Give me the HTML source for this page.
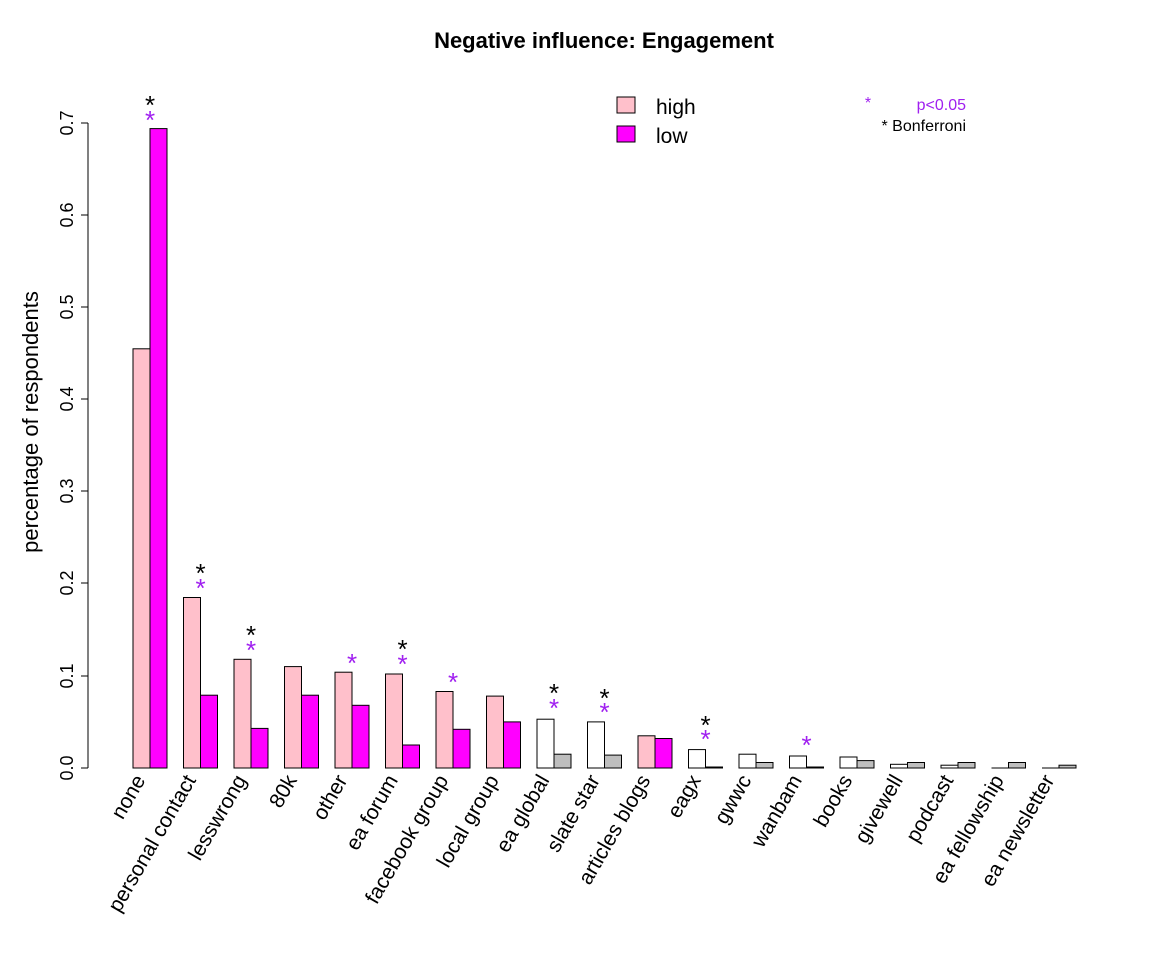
<!DOCTYPE html>
<html><head><style>body{margin:0;background:#fff}svg{display:block}text{font-family:"Liberation Sans",Arial,sans-serif}</style></head>
<body>
<svg width="1152" height="960" viewBox="0 0 1152 960" xmlns="http://www.w3.org/2000/svg">
<text x="604" y="48" font-size="22" font-weight="bold" text-anchor="middle">Negative influence: Engagement</text>
<text transform="translate(38,422) rotate(-90)" font-size="22" text-anchor="middle">percentage of respondents</text>
<g stroke="#000" stroke-width="1">
<line x1="88" y1="123" x2="88" y2="768"/>
<line x1="81" y1="768" x2="88" y2="768"/><line x1="81" y1="676" x2="88" y2="676"/><line x1="81" y1="583" x2="88" y2="583"/><line x1="81" y1="491" x2="88" y2="491"/><line x1="81" y1="399" x2="88" y2="399"/><line x1="81" y1="307" x2="88" y2="307"/><line x1="81" y1="215" x2="88" y2="215"/><line x1="81" y1="123" x2="88" y2="123"/>
</g>
<g font-size="18" text-anchor="middle">
<text transform="translate(73,768) rotate(-90)">0.0</text>
<text transform="translate(73,676) rotate(-90)">0.1</text>
<text transform="translate(73,583) rotate(-90)">0.2</text>
<text transform="translate(73,491) rotate(-90)">0.3</text>
<text transform="translate(73,399) rotate(-90)">0.4</text>
<text transform="translate(73,307) rotate(-90)">0.5</text>
<text transform="translate(73,215) rotate(-90)">0.6</text>
<text transform="translate(73,123) rotate(-90)">0.7</text>
</g>
<g stroke="#000" stroke-width="1">
<rect x="133" y="348.8" width="17" height="419.2" fill="#FFC0CB"/><rect x="150" y="128.6" width="17" height="639.4" fill="#FF00FF"/>
<rect x="183.5" y="597.5" width="17" height="170.5" fill="#FFC0CB"/><rect x="200.5" y="695.2" width="17" height="72.8" fill="#FF00FF"/>
<rect x="234" y="659.3" width="17" height="108.7" fill="#FFC0CB"/><rect x="251" y="728.4" width="17" height="39.6" fill="#FF00FF"/>
<rect x="284.5" y="666.6" width="17" height="101.4" fill="#FFC0CB"/><rect x="301.5" y="695.2" width="17" height="72.8" fill="#FF00FF"/>
<rect x="335" y="672.2" width="17" height="95.8" fill="#FFC0CB"/><rect x="352" y="705.3" width="17" height="62.7" fill="#FF00FF"/>
<rect x="385.5" y="674" width="17" height="94" fill="#FFC0CB"/><rect x="402.5" y="745" width="17" height="23" fill="#FF00FF"/>
<rect x="436" y="691.5" width="17" height="76.5" fill="#FFC0CB"/><rect x="453" y="729.3" width="17" height="38.7" fill="#FF00FF"/>
<rect x="486.5" y="696.1" width="17" height="71.9" fill="#FFC0CB"/><rect x="503.5" y="721.9" width="17" height="46.1" fill="#FF00FF"/>
<rect x="537" y="719.2" width="17" height="48.8" fill="#fff"/><rect x="554" y="754.2" width="17" height="13.8" fill="#BEBEBE"/>
<rect x="587.5" y="721.9" width="17" height="46.1" fill="#fff"/><rect x="604.5" y="755.1" width="17" height="12.9" fill="#BEBEBE"/>
<rect x="638" y="735.8" width="17" height="32.2" fill="#FFC0CB"/><rect x="655" y="738.5" width="17" height="29.5" fill="#FF00FF"/>
<rect x="688.5" y="749.6" width="17" height="18.4" fill="#fff"/><rect x="705.5" y="767" width="17" height="1" fill="#BEBEBE"/>
<rect x="739" y="754.2" width="17" height="13.8" fill="#fff"/><rect x="756" y="762.5" width="17" height="5.5" fill="#BEBEBE"/>
<rect x="789.5" y="756" width="17" height="12" fill="#fff"/><rect x="806.5" y="767" width="17" height="1" fill="#BEBEBE"/>
<rect x="840" y="757" width="17" height="11" fill="#fff"/><rect x="857" y="760.6" width="17" height="7.4" fill="#BEBEBE"/>
<rect x="890.5" y="764.3" width="17" height="3.7" fill="#fff"/><rect x="907.5" y="762.5" width="17" height="5.5" fill="#BEBEBE"/>
<rect x="941" y="765.2" width="17" height="2.8" fill="#fff"/><rect x="958" y="762.5" width="17" height="5.5" fill="#BEBEBE"/>
<line x1="991.5" y1="768" x2="1008.5" y2="768"/><rect x="1008.5" y="762.5" width="17" height="5.5" fill="#BEBEBE"/>
<line x1="1042" y1="768" x2="1059" y2="768"/><rect x="1059" y="765.2" width="17" height="2.8" fill="#BEBEBE"/>
</g>
<g font-size="26" text-anchor="middle">
<text x="150" y="129" fill="#A020F0">*</text><text x="150" y="114">*</text>
<text x="200.5" y="597" fill="#A020F0">*</text><text x="200.5" y="582">*</text>
<text x="251" y="659" fill="#A020F0">*</text><text x="251" y="644">*</text>
<text x="352" y="672" fill="#A020F0">*</text>
<text x="402.5" y="673" fill="#A020F0">*</text><text x="402.5" y="658">*</text>
<text x="453" y="691" fill="#A020F0">*</text>
<text x="554" y="717" fill="#A020F0">*</text><text x="554" y="702">*</text>
<text x="604.5" y="721" fill="#A020F0">*</text><text x="604.5" y="707">*</text>
<text x="705.5" y="748" fill="#A020F0">*</text><text x="705.5" y="734">*</text>
<text x="806.5" y="754" fill="#A020F0">*</text>
</g>
<g font-size="21" text-anchor="end">
<text transform="translate(146,780) rotate(-60)">none</text>
<text transform="translate(196.5,780) rotate(-60)">personal contact</text>
<text transform="translate(247,780) rotate(-60)">lesswrong</text>
<text transform="translate(297.5,780) rotate(-60)">80k</text>
<text transform="translate(348,780) rotate(-60)">other</text>
<text transform="translate(398.5,780) rotate(-60)">ea forum</text>
<text transform="translate(449,780) rotate(-60)">facebook group</text>
<text transform="translate(499.5,780) rotate(-60)">local group</text>
<text transform="translate(550,780) rotate(-60)">ea global</text>
<text transform="translate(600.5,780) rotate(-60)">slate star</text>
<text transform="translate(651,780) rotate(-60)">articles blogs</text>
<text transform="translate(701.5,780) rotate(-60)">eagx</text>
<text transform="translate(752,780) rotate(-60)">gwwc</text>
<text transform="translate(802.5,780) rotate(-60)">wanbam</text>
<text transform="translate(853,780) rotate(-60)">books</text>
<text transform="translate(903.5,780) rotate(-60)">givewell</text>
<text transform="translate(954,780) rotate(-60)">podcast</text>
<text transform="translate(1004.5,780) rotate(-60)">ea fellowship</text>
<text transform="translate(1055,780) rotate(-60)">ea newsletter</text>
</g>
<rect x="617" y="97" width="18" height="16" fill="#FFC0CB" stroke="#000"/>
<rect x="617" y="126" width="18" height="16" fill="#FF00FF" stroke="#000"/>
<text x="656" y="114" font-size="21">high</text>
<text x="656" y="143" font-size="21">low</text>
<text x="868" y="108" font-size="16" fill="#A020F0" text-anchor="middle">*</text>
<text x="966" y="110" font-size="16" fill="#A020F0" text-anchor="end">p&lt;0.05</text>
<text x="966" y="131" font-size="16" text-anchor="end">* Bonferroni</text>
</svg>
</body></html>
